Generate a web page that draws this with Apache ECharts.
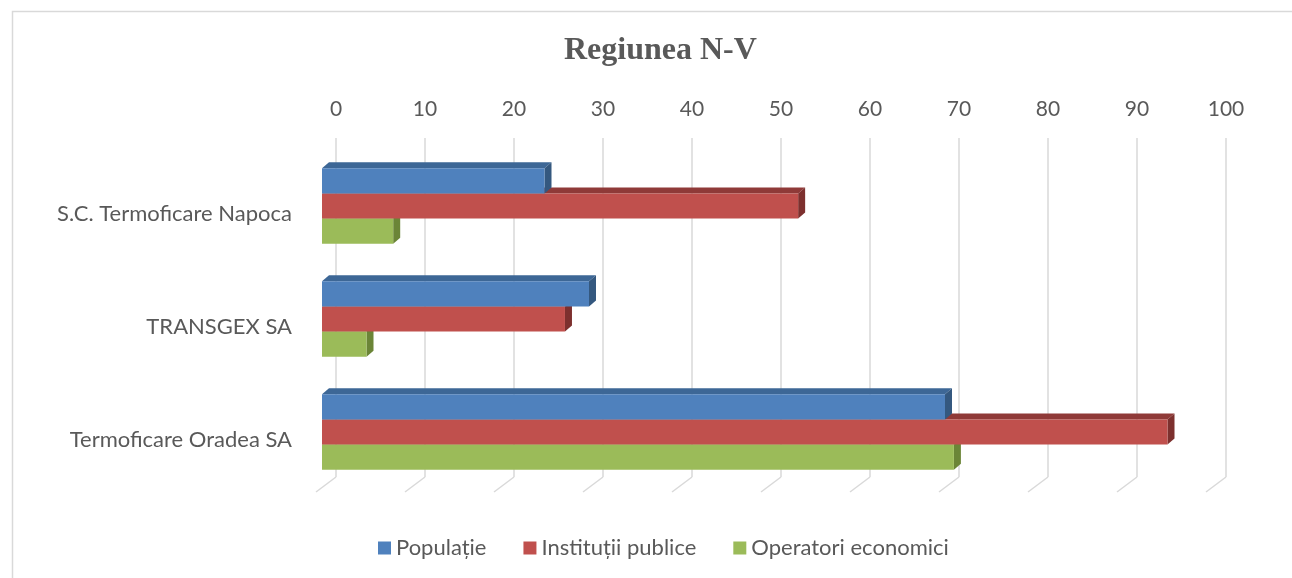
<!DOCTYPE html>
<html lang="ro">
<head>
    <meta charset="UTF-8"/>
    <title>Regiunea N-V</title>
    <style>
        html, body {
            margin: 0;
            padding: 0;
            width: 100vw;
            height: 100vh;
            background: #ffffff;
            overflow: hidden;
        }

        #chart {
            width: 1292px;
            height: 578px;
        }
    </style>
</head>
<body>
<div id="chart"></div>
<script src="https://cdn.jsdelivr.net/npm/echarts@6/dist/echarts.min.js"></script>
<script>
    const chart = echarts.init(document.getElementById('chart'));

    // Data
    const companies = ['S.C. Termoficare Napoca', 'TRANSGEX SA', 'Termoficare Oradea SA'];
    const populatie = [25, 30, 70];
    const institutii = [53.5, 27.3, 95];
    const operatori = [8, 5, 71];
    const ticks = [0, 10, 20, 30, 40, 50, 60, 70, 80, 90, 100];

    const textColor = '#595959';
    const gridColor = '#d9d9d9';
    const labelFont = 'Lato, "Noto Sans", sans-serif';

    // fake 3D: front face shifted from the back wall, plus a small depth
    const shiftX = -14, shiftY = 11.5;
    const depthX = 7, depthY = -6;

    const colors = {
        'Populație': ['#4f81bd', '#3d6796', '#34587f'],
        'Instituții publice': ['#c0504d', '#8f3a38', '#7d302e'],
        'Operatori economici': ['#9bbb59', '#7a9a42', '#6b8537']
    };

    function barRender(slot, name) {
        const c = colors[name];
        return function (params, api) {
            const cat = api.value(1);
            const p0 = api.coord([0, cat]);
            const p1 = api.coord([api.value(0), cat]);
            const h = api.size([0, 1])[1] * 0.222;
            const x0 = p0[0] + shiftX;
            const x1 = p1[0] + shiftX;
            const top = p0[1] + shiftY + slot * h - h / 2;
            return {
                type: 'group',
                children: [
                    {
                        type: 'polygon',
                        shape: {points: [[x0, top], [x1, top], [x1 + depthX, top + depthY], [x0 + depthX, top + depthY]]},
                        style: {fill: c[1]}
                    },
                    {
                        type: 'polygon',
                        shape: {points: [[x1, top], [x1 + depthX, top + depthY], [x1 + depthX, top + h + depthY], [x1, top + h]]},
                        style: {fill: c[2]}
                    },
                    {
                        type: 'rect',
                        shape: {x: x0, y: top, width: x1 - x0, height: h},
                        style: {fill: c[0]}
                    }
                ]
            };
        };
    }

    function createSeries(name, values, slot, z) {
        return {
            name: name,
            type: 'custom',
            z: z,
            renderItem: barRender(slot, name),
            itemStyle: {color: colors[name][0]},
            encode: {x: 0, y: 1},
            data: values.map((v, i) => [v, i])
        };
    }

    // slanted floor part of each gridline
    const floorSeries = {
        type: 'custom',
        z: 1,
        silent: true,
        renderItem: function (params, api) {
            const p = api.coord([api.value(0), 0]);
            const bottom = params.coordSys.y + params.coordSys.height;
            return {
                type: 'line',
                shape: {x1: p[0], y1: bottom, x2: p[0] - 20, y2: bottom + 15},
                style: {stroke: gridColor, lineWidth: 1.5}
            };
        },
        encode: {x: 0},
        data: ticks.map(t => [t, 0])
    };

    const option = {
        backgroundColor: '#ffffff',
        animation: false,
        title: {
            text: 'Regiunea N-V',
            left: 559,
            top: 30,
            textStyle: {
                fontFamily: '"Liberation Serif", "DejaVu Serif", serif',
                fontWeight: 'bold',
                fontSize: 32,
                color: textColor
            }
        },
        legend: {
            data: ['Populație', 'Instituții publice', 'Operatori economici'],
            bottom: 14,
            left: 373,
            icon: 'rect',
            itemWidth: 13,
            itemHeight: 13,
            itemGap: 37,
            textStyle: {fontFamily: labelFont, fontSize: 22, color: textColor}
        },
        graphic: [{
            type: 'rect',
            left: 10,
            top: 9,
            shape: {width: 1300, height: 600},
            style: {fill: 'none', stroke: gridColor, lineWidth: 1.5},
            silent: true
        }],
        grid: {
            left: 336,
            top: 138,
            width: 890,
            height: 339
        },
        xAxis: {
            type: 'value',
            position: 'top',
            min: 0,
            max: 100,
            interval: 10,
            axisLine: {show: false},
            axisTick: {show: false},
            axisLabel: {margin: 18, fontFamily: labelFont, fontSize: 21, color: textColor},
            splitLine: {lineStyle: {color: gridColor, width: 1.5}}
        },
        yAxis: {
            type: 'category',
            data: companies,
            inverse: true,
            axisLine: {show: false},
            axisTick: {show: false},
            axisLabel: {
                margin: 44,
                verticalAlign: 'top',
                lineHeight: 38,
                fontFamily: labelFont,
                fontSize: 22,
                color: textColor
            },
            splitLine: {show: false}
        },
        series: [
            floorSeries,
            createSeries('Populație', populatie, -1, 4),
            createSeries('Instituții publice', institutii, 0, 3),
            createSeries('Operatori economici', operatori, 1, 2)
        ]
    };

    chart.setOption(option);
</script>
</body>
</html>
